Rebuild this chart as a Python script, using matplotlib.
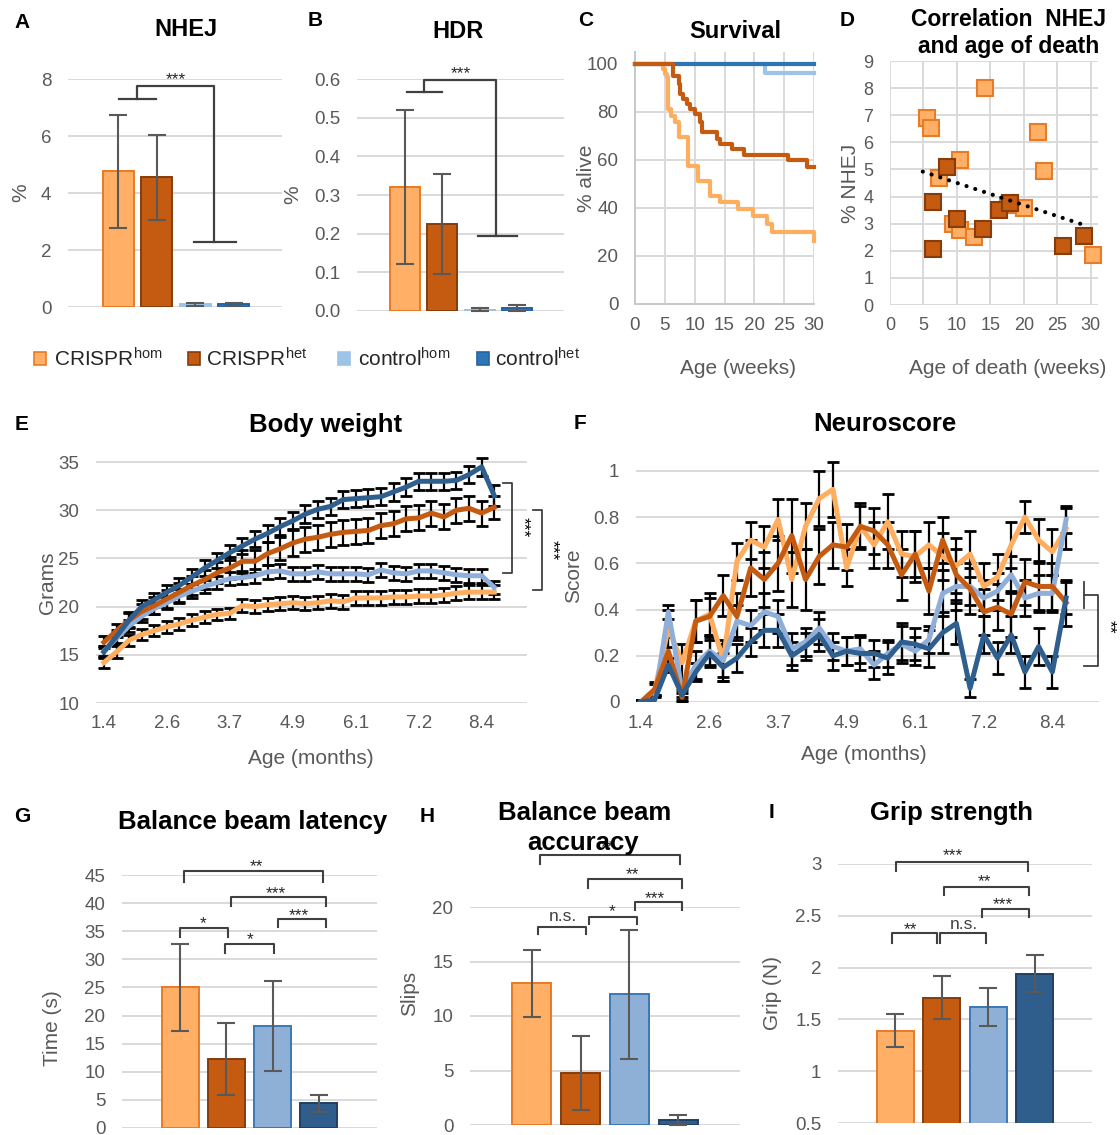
import matplotlib
matplotlib.use('Agg')
import matplotlib.pyplot as plt
import numpy as np
from matplotlib.patches import Rectangle

plt.rcParams['font.family'] = ['Liberation Sans', 'DejaVu Sans']
plt.rcParams['mathtext.fontset'] = 'custom'
plt.rcParams['mathtext.rm'] = 'Liberation Sans'
plt.rcParams['mathtext.it'] = 'Liberation Sans:italic'
plt.rcParams['mathtext.bf'] = 'Liberation Sans:bold'

# ---------------- data ----------------
legend_labels = ['CRISPR$^{\\mathregular{hom}}$', 'CRISPR$^{\\mathregular{het}}$',
                 'control$^{\\mathregular{hom}}$', 'control$^{\\mathregular{het}}$']

nhej_mean = [4.77, 4.56, 0.10, 0.10]
nhej_err = [1.97, 1.50, 0.05, 0.04]
hdr_mean = [0.32, 0.225, 0.003, 0.007]
hdr_err = [0.20, 0.13, 0.003, 0.007]

# survival (weeks, % alive), step curves
surv_crhom_w = [0, 4.7, 5.0, 5.3, 5.6, 6.1, 6.7, 7.3, 8.9, 10.6, 12.6, 14.2, 17.3, 19.8, 22.1, 22.9, 30]
surv_crhom_p = [100, 97.9, 96, 94.4, 81.2, 78.5, 75.7, 69.4, 57.6, 51.4, 45.1, 42.4, 39.6, 36.8, 33.3, 29.9, 26.4]
surv_crhet_w = [0, 6.4, 7.3, 7.5, 8.1, 8.7, 9.2, 10.1, 10.9, 11.2, 13.7, 14.2, 16.2, 18.2, 25.7, 28.8, 30]
surv_crhet_p = [100, 95.1, 91.7, 87.5, 85.4, 83.3, 81.3, 79.2, 75.7, 71.5, 68.8, 66.7, 64.6, 62.2, 60.0, 57.0, 57.0]
surv_cthom_w = [0, 21.8, 30]
surv_cthom_p = [100, 96.1, 96.1]
surv_cthet_w = [0, 30]
surv_cthet_p = [100, 100]

# correlation NHEJ vs age of death
corr_hom_age = [5.6, 6.14, 14.25, 7.31, 10.4, 22.15, 22.95, 9.34, 10.4, 12.5, 17.6, 20.0, 30.3]
corr_hom_nhej = [6.89, 6.52, 7.99, 4.67, 5.35, 6.37, 4.96, 2.99, 2.77, 2.50, 3.69, 3.57, 1.84]
corr_het_age = [8.54, 6.4, 6.4, 10.04, 13.9, 16.3, 18.0, 25.8, 29.0]
corr_het_nhej = [5.10, 3.81, 2.05, 3.17, 2.80, 3.50, 3.75, 2.19, 2.55]
trend_age = [4.9, 29.0]
trend_nhej = [4.92, 2.95]

# body weight (weekly, 32 points)
month_ticks = ['1.4', '2.6', '3.7', '4.9', '6.1', '7.2', '8.4']
bw_crhom = [14.2, 15.3, 16.5, 17.1, 17.5, 17.9, 18.2, 18.6, 18.9, 19.2, 19.3, 20.1, 20.0, 20.2, 20.3, 20.4,
            20.3, 20.4, 20.6, 20.5, 20.9, 20.9, 20.9, 21.0, 21.0, 21.1, 21.1, 21.2, 21.4, 21.5, 21.5, 21.5]
bw_crhet = [16.3, 17.5, 18.6, 19.5, 20.1, 20.8, 21.5, 22.2, 22.8, 23.5, 24.0, 24.7, 24.7, 25.5, 26.0, 26.6,
            27.0, 27.2, 27.5, 27.7, 27.8, 27.9, 28.4, 28.6, 29.1, 29.2, 29.7, 29.3, 30.0, 30.2, 29.7, 30.3]
bw_cthom = [15.4, 16.7, 18.0, 19.0, 19.8, 20.4, 21.1, 21.6, 22.1, 22.5, 22.9, 23.0, 23.2, 23.6, 23.7, 23.4,
            23.4, 23.6, 23.4, 23.4, 23.4, 23.3, 23.8, 23.5, 23.4, 23.7, 23.7, 23.5, 23.3, 23.2, 23.2, 22.0]
bw_cthet = [15.3, 16.9, 18.6, 20.0, 20.7, 21.5, 22.2, 23.1, 24.0, 24.8, 25.6, 26.3, 27.0, 27.6, 28.3, 28.9,
            29.6, 30.1, 30.4, 31.1, 31.2, 31.3, 31.4, 31.9, 32.4, 33.0, 33.0, 33.0, 33.1, 33.7, 34.5, 31.5]
bw_err_crhom = [0.6, 0.6, 0.6, 0.6, 0.6, 0.6, 0.6, 0.6, 0.6, 0.6, 0.6, 0.7, 0.7, 0.7, 0.7, 0.7,
                0.7, 0.7, 0.7, 0.7, 0.7, 0.7, 0.7, 0.7, 0.7, 0.7, 0.7, 0.7, 0.7, 0.7, 0.7, 0.7]
bw_err_crhet = [0.6, 0.7, 0.8, 0.8, 0.9, 0.9, 1.0, 1.0, 1.0, 1.1, 1.1, 1.2, 1.2, 1.2, 1.2, 1.3,
                1.3, 1.3, 1.3, 1.3, 1.3, 1.3, 1.3, 1.3, 1.3, 1.3, 1.3, 1.3, 1.3, 1.3, 1.3, 1.2]
bw_err_cthom = [0.5, 0.6, 0.6, 0.6, 0.6, 0.6, 0.7, 0.7, 0.7, 0.7, 0.7, 0.7, 0.7, 0.7, 0.7, 0.7,
                0.7, 0.7, 0.7, 0.7, 0.7, 0.7, 0.7, 0.7, 0.7, 0.7, 0.7, 0.7, 0.7, 0.7, 0.7, 0.7]
bw_err_cthet = [0.6, 0.7, 0.7, 0.7, 0.7, 0.7, 0.8, 0.8, 0.8, 0.8, 0.8, 0.8, 0.8, 0.9, 0.9, 0.9,
                0.9, 0.9, 0.9, 0.9, 0.9, 0.9, 0.9, 0.9, 0.9, 0.9, 0.9, 0.9, 0.9, 0.9, 0.9, 1.1]

# neuroscore (weekly, 32 points)
ns_crhom = [0.00, 0.05, 0.32, 0.17, 0.35, 0.38, 0.18, 0.61, 0.70, 0.67, 0.79, 0.53, 0.76, 0.88, 0.92, 0.58,
            0.76, 0.68, 0.78, 0.64, 0.63, 0.68, 0.63, 0.59, 0.64, 0.50, 0.54, 0.68, 0.80, 0.70, 0.65, 0.75]
ns_crhet = [0.00, 0.055, 0.22, 0.02, 0.35, 0.37, 0.46, 0.37, 0.58, 0.53, 0.60, 0.72, 0.53, 0.63, 0.68, 0.67,
            0.76, 0.74, 0.68, 0.55, 0.64, 0.48, 0.70, 0.55, 0.49, 0.39, 0.41, 0.38, 0.52, 0.50, 0.50, 0.43]
ns_cthom = [0.00, 0.01, 0.39, 0.05, 0.16, 0.22, 0.18, 0.35, 0.33, 0.39, 0.37, 0.23, 0.26, 0.32, 0.24, 0.22,
            0.23, 0.16, 0.21, 0.25, 0.22, 0.27, 0.47, 0.50, 0.50, 0.45, 0.48, 0.55, 0.45, 0.47, 0.47, 0.79]
ns_cthet = [0.00, 0.01, 0.16, 0.03, 0.13, 0.21, 0.15, 0.19, 0.26, 0.31, 0.31, 0.20, 0.24, 0.29, 0.20, 0.22,
            0.21, 0.21, 0.19, 0.26, 0.25, 0.23, 0.30, 0.34, 0.06, 0.29, 0.19, 0.29, 0.13, 0.24, 0.13, 0.45]
ns_err_crhom = [0.01, 0.03, 0.08, 0.08, 0.09, 0.09, 0.09, 0.08, 0.08, 0.09, 0.09, 0.12, 0.10, 0.12, 0.12, 0.08,
                0.09, 0.10, 0.12, 0.10, 0.11, 0.10, 0.10, 0.12, 0.10, 0.10, 0.10, 0.10, 0.07, 0.09, 0.10, 0.09]
ns_err_crhet = [0.01, 0.03, 0.06, 0.02, 0.09, 0.08, 0.09, 0.10, 0.12, 0.12, 0.12, 0.16, 0.13, 0.12, 0.10, 0.10,
                0.10, 0.10, 0.10, 0.11, 0.10, 0.10, 0.10, 0.11, 0.11, 0.10, 0.10, 0.10, 0.10, 0.10, 0.10, 0.10]
ns_err_cthom = [0.01, 0.02, 0.03, 0.03, 0.06, 0.06, 0.07, 0.07, 0.07, 0.08, 0.07, 0.07, 0.06, 0.07, 0.06, 0.06,
                0.06, 0.06, 0.06, 0.08, 0.06, 0.06, 0.10, 0.10, 0.08, 0.08, 0.08, 0.08, 0.08, 0.08, 0.08, 0.06]
ns_err_cthet = [0.01, 0.02, 0.03, 0.02, 0.04, 0.06, 0.06, 0.06, 0.06, 0.07, 0.07, 0.06, 0.06, 0.07, 0.06, 0.06,
                0.07, 0.06, 0.07, 0.08, 0.07, 0.08, 0.09, 0.09, 0.04, 0.08, 0.07, 0.08, 0.07, 0.08, 0.07, 0.07]

latency_mean = [25.0, 12.3, 18.2, 4.4]
latency_err = [7.8, 6.4, 8.0, 1.5]
slips_mean = [13.0, 4.8, 12.0, 0.46]
slips_err = [3.1, 3.4, 5.9, 0.46]
grip_mean = [1.39, 1.71, 1.62, 1.94]
grip_err = [0.16, 0.21, 0.18, 0.18]

# significance brackets: (x1, x2, y_top, y_end, label, label_x, label_y)
G_brackets = [(0.08, 3.10, 45.7, 43.8, '**', 1.66, 47.4),
              (1.10, 3.15, 41.1, 39.5, '***', 2.06, 42.7),
              (2.12, 3.15, 37.1, 35.7, '***', 2.56, 38.8),
              (0.00, 1.04, 35.6, 34.0, '*', 0.50, 37.3),
              (0.98, 2.03, 32.7, 31.2, '*', 1.52, 34.5)]
H_brackets = [(0.17, 3.03, 24.8, 23.9, '**', 1.55, 26.0),
              (1.15, 3.08, 22.6, 21.7, '**', 2.07, 23.5),
              (2.11, 3.08, 20.5, 19.7, '***', 2.52, 21.3),
              (1.17, 2.15, 19.1, 18.4, '*', 1.64, 20.1),
              (0.13, 1.11, 18.2, 17.5, 'n.s.', 0.64, 19.1)]
I_brackets = [(0.01, 2.86, 3.02, 2.93, '***', 1.24, 3.13),
              (1.05, 2.88, 2.78, 2.70, '**', 1.93, 2.88),
              (1.86, 2.88, 2.57, 2.49, '***', 2.32, 2.66),
              (-0.08, 0.90, 2.33, 2.24, '**', 0.33, 2.42),
              (0.96, 1.95, 2.33, 2.24, 'n.s.', 1.48, 2.42)]

# ---------------- style ----------------
W, H = 1120, 1135
fig = plt.figure(figsize=(W / 100, H / 100), dpi=100)

C_HOM = '#FFB066'; C_HOM_E = '#E97A26'
C_HET = '#C55A11'; C_HET_E = '#853D0C'
C_CH = '#9DC3E6'; C_CT = '#2E75B6'
C_CH2 = '#8FB0D6'; C_CH2_E = '#3A78B5'
C_CT2 = '#2F5D8C'; C_CT2_E = '#1F3F63'
L_HOM = '#FFAD5E'; L_HET = '#C55A11'; L_CH = '#8FAEDA'; L_CT = '#2F5F8F'
GRID = '#D9D9D9'; TICK = '#595959'; BR = '#404040'

TICKFS = 13.5
LABFS = 15
TITFS1 = 17
TITFS2 = 18.5
LETFS = 15


def add_ax(x0, x1, ytop, ybot):
    return fig.add_axes([x0 / W, 1 - ybot / H, (x1 - x0) / W, (ybot - ytop) / H])


def ftext(x, y, s, **kw):
    kw.setdefault('ha', 'center')
    kw.setdefault('va', 'center')
    fig.text(x / W, 1 - y / H, s, **kw)


def style(ax, grid_axis='y', fs=TICKFS):
    for s in ax.spines.values():
        s.set_visible(False)
    ax.tick_params(length=0, labelsize=fs, labelcolor=TICK)
    ax.tick_params(axis='y', pad=12)
    ax.tick_params(axis='x', pad=9)
    ax.grid(axis=grid_axis, color=GRID, lw=1.4)
    ax.set_axisbelow(True)
    ax.set_facecolor('none')


def bars(ax, means, errs, fills, edges):
    x = np.arange(len(means))
    ax.bar(x, means, width=0.8, color=fills, edgecolor=edges, linewidth=1.4, zorder=2)
    ax.errorbar(x, means, yerr=errs, fmt='none', ecolor='#595959', elinewidth=1.5,
                capsize=6.5, capthick=1.5, zorder=3, clip_on=False)
    ax.set_xticks([])


def sig(ax, x, y, s, fs=12.5, color='#262626', rotation=0):
    if rotation:
        ax.text(x, y, s, fontsize=fs, color=color, rotation=rotation, ha='center', va='center', clip_on=False)
        return
    off = -0.58 * fs if s.startswith('*') else -0.26 * fs
    ax.annotate(s, (x, y), xytext=(0, off), textcoords='offset points', ha='center', va='baseline',
                fontsize=fs, color=color, annotation_clip=False)


def brackets(ax, blist, fs=12.5):
    for x1, x2, yt, ye, lab, lx, ly in blist:
        ax.plot([x1, x1, x2, x2], [ye, yt, yt, ye], color=BR, lw=1.5, clip_on=False, zorder=4)
        sig(ax, lx, ly, lab, fs=fs, color='#262626' if lab.startswith('*') else '#404040')


# ---------------- A: NHEJ ----------------
axA = add_ax(68, 282, 79.3, 307.3)
style(axA)
bars(axA, nhej_mean, nhej_err, [C_HOM, C_HET, C_CH, C_CT], [C_HOM_E, C_HET_E, C_CH, '#2563A0'])
axA.set_xlim(-1.3, 4.25)
axA.set_ylim(0, 8)
axA.set_yticks([0, 2, 4, 6, 8])
A_br_x = [[0.01, 0.99], [0.49, 0.49, 2.49, 2.49], [1.97, 3.06]]
A_br_y = [[7.32, 7.32], [7.32, 7.77, 7.77, 2.28], [2.28, 2.28]]
for bx, by in zip(A_br_x, A_br_y):
    axA.plot(bx, by, color=BR, lw=1.6, clip_on=False, zorder=4)
sig(axA, 1.5, 8.2, '***')

# ---------------- B: HDR ----------------
axB = add_ax(357, 564, 79.3, 310.7)
style(axB)
bars(axB, hdr_mean, hdr_err, [C_HOM, C_HET, C_CH, C_CT], [C_HOM_E, C_HET_E, C_CH, '#2563A0'])
axB.set_xlim(-1.29, 4.26)
axB.set_ylim(0, 0.6)
axB.set_yticks([0, 0.1, 0.2, 0.3, 0.4, 0.5, 0.6])
axB.set_yticklabels(['0.0', '0.1', '0.2', '0.3', '0.4', '0.5', '0.6'])
B_br_x = [[0.06, 0.99], [0.51, 0.51, 2.45, 2.45], [1.95, 3.0]]
B_br_y = [[0.567, 0.567], [0.567, 0.598, 0.598, 0.194], [0.194, 0.194]]
for bx, by in zip(B_br_x, B_br_y):
    axB.plot(bx, by, color=BR, lw=1.6, clip_on=False, zorder=4)
sig(axB, 1.49, 0.629, '***')

# ---------------- C: Survival ----------------
axC = add_ax(635, 814, 52, 304)
style(axC, grid_axis='both')
axC.spines['left'].set_visible(True)
axC.spines['bottom'].set_visible(True)
axC.spines['left'].set_color('#C8C8C8')
axC.spines['bottom'].set_color('#C8C8C8')
axC.spines['left'].set_linewidth(1.4)
axC.spines['bottom'].set_linewidth(1.4)
axC.step(surv_cthom_w, surv_cthom_p, where='post', color=C_CH, lw=3, zorder=3, clip_on=False)
axC.step(surv_cthet_w, surv_cthet_p, where='post', color=C_CT, lw=3, zorder=3, clip_on=False)
axC.step(surv_crhom_w, surv_crhom_p, where='post', color=L_HOM, lw=3, zorder=3, clip_on=False)
axC.step(surv_crhet_w, surv_crhet_p, where='post', color=L_HET, lw=3, zorder=3, clip_on=False)
axC.set_xlim(0, 30)
axC.set_ylim(0, 105)
axC.set_xticks([0, 5, 10, 15, 20, 25, 30])
axC.set_yticks([0, 20, 40, 60, 80, 100])

# ---------------- D: correlation ----------------
axD = add_ax(890, 1097.5, 61, 305)
style(axD, grid_axis='both', fs=13)
axD.plot(corr_hom_age, corr_hom_nhej, 's', ms=11, mfc=C_HOM, mec=C_HOM_E, mew=1.5, zorder=3, clip_on=False)
axD.plot(corr_het_age, corr_het_nhej, 's', ms=11, mfc=C_HET, mec=C_HET_E, mew=1.5, zorder=4, clip_on=False)
axD.plot(trend_age, trend_nhej, color='black', lw=3, dashes=(0.01, 2.2), dash_capstyle='round', zorder=5)
axD.set_xlim(0, 31)
axD.set_ylim(0, 9)
axD.set_xticks([0, 5, 10, 15, 20, 25, 30])
axD.set_yticks(range(0, 10))

# ---------------- E: body weight ----------------
axE = add_ax(96, 527, 454.3, 703)
style(axE)
xw = np.arange(len(bw_crhom))
for yv, ev in [(bw_crhom, bw_err_crhom), (bw_cthom, bw_err_cthom), (bw_crhet, bw_err_crhet), (bw_cthet, bw_err_cthet)]:
    axE.errorbar(xw, yv, yerr=ev, fmt='none', ecolor='black', elinewidth=1.6, capsize=4.5, capthick=2, zorder=2)
axE.plot(xw, bw_crhom, color=L_HOM, lw=3.6, zorder=3)
axE.plot(xw, bw_cthom, color=L_CH, lw=3.6, zorder=3)
axE.plot(xw, bw_crhet, color=L_HET, lw=3.6, zorder=3)
axE.plot(xw, bw_cthet, color=L_CT, lw=3.6, zorder=3)
axE.set_xlim(-0.63, 33.6)
axE.set_ylim(10, 35.8)
axE.set_yticks([10, 15, 20, 25, 30, 35])
axE.set_xticks(np.arange(0, 31, 5))
axE.set_xticklabels(month_ticks)
E_br_x = [[31.7, 32.4, 32.4, 31.7], [34.1, 34.8, 34.8, 34.1]]
E_br_y = [[32.8, 32.8, 23.5, 23.5], [30.0, 30.0, 21.7, 21.7]]
for bx, by in zip(E_br_x, E_br_y):
    axE.plot(bx, by, color=BR, lw=1.3, clip_on=False, zorder=4)
sig(axE, 33.3, 28.2, '***', fs=12.5, color='black', rotation=270)
sig(axE, 35.6, 25.9, '***', fs=12.5, color='black', rotation=270)

# ---------------- F: neuroscore ----------------
axF = add_ax(636, 1099, 457, 702)
style(axF)
xn = np.arange(len(ns_crhom))
for yv, ev in [(ns_crhom, ns_err_crhom), (ns_cthom, ns_err_cthom), (ns_crhet, ns_err_crhet), (ns_cthet, ns_err_cthet)]:
    axF.errorbar(xn, yv, yerr=ev, fmt='none', ecolor='black', elinewidth=1.6, capsize=4.5, capthick=2, zorder=2)
axF.plot(xn, ns_crhom, color=L_HOM, lw=3.6, zorder=3)
axF.plot(xn, ns_cthom, color=L_CH, lw=3.6, zorder=3)
axF.plot(xn, ns_crhet, color=L_HET, lw=3.6, zorder=3)
axF.plot(xn, ns_cthet, color=L_CT, lw=3.6, zorder=3)
axF.set_xlim(-0.36, 33.4)
axF.set_ylim(0, 1.06)
axF.set_yticks([0, 0.2, 0.4, 0.6, 0.8, 1.0])
axF.set_yticklabels(['0', '0.2', '0.4', '0.6', '0.8', '1'])
axF.set_xticks(np.arange(0, 31, 5))
axF.set_xticklabels(month_ticks)
F_br_x = [[32.3, 32.3], [32.3, 33.3, 33.3, 32.3]]
F_br_y = [[0.52, 0.405], [0.465, 0.465, 0.155, 0.155]]
for bx, by in zip(F_br_x, F_br_y):
    axF.plot(bx, by, color=BR, lw=1.3, clip_on=False, zorder=4)
sig(axF, 34.1, 0.325, '**', fs=12.5, color='black', rotation=270)

# ---------------- G, H, I ----------------
fills2 = [C_HOM, C_HET, C_CH2, C_CT2]
edges2 = [C_HOM_E, C_HET_E, C_CH2_E, C_CT2_E]

axG = add_ax(122, 377, 875, 1128)
style(axG)
bars(axG, latency_mean, latency_err, fills2, edges2)
axG.set_xlim(-1.26, 4.26)
axG.set_ylim(0, 45)
axG.set_yticks(range(0, 46, 5))
brackets(axG, G_brackets)

axH = add_ax(470, 740, 907, 1125)
style(axH)
bars(axH, slips_mean, slips_err, fills2, edges2)
axH.set_xlim(-1.26, 4.26)
axH.set_ylim(0, 20)
axH.set_yticks([0, 5, 10, 15, 20])
brackets(axH, H_brackets)

axI = add_ax(838, 1092, 864, 1123)
style(axI)
bars(axI, grip_mean, grip_err, fills2, edges2)
axI.set_xlim(-1.24, 4.24)
axI.set_ylim(0.5, 3)
axI.set_yticks([0.5, 1, 1.5, 2, 2.5, 3])
axI.set_yticklabels(['0.5', '1', '1.5', '2', '2.5', '3'])
brackets(axI, I_brackets)

# ---------------- text: letters, titles, axis labels ----------------
for (lx, ly, L) in [(22, 22, 'A'), (315, 21, 'B'), (586, 20, 'C'), (847, 20, 'D'),
                    (22, 425, 'E'), (580, 424, 'F'), (22, 817, 'G'), (427, 816, 'H'), (771, 813, 'I')]:
    ftext(lx, ly, L, fontsize=LETFS, fontweight='bold', color='black')

ftext(186, 30, 'NHEJ', fontsize=TITFS1, fontweight='bold')
ftext(458, 32, 'HDR', fontsize=TITFS1, fontweight='bold')
ftext(735, 31, 'Survival', fontsize=TITFS1, fontweight='bold')
ftext(1009, 19, 'Correlation  NHEJ', fontsize=16.5, fontweight='bold')
ftext(1009, 47, 'and age of death', fontsize=16.5, fontweight='bold')
ftext(326, 425, 'Body weight', fontsize=TITFS2, fontweight='bold')
ftext(885, 424, 'Neuroscore', fontsize=TITFS2, fontweight='bold')
ftext(253, 822, 'Balance beam latency', fontsize=TITFS2, fontweight='bold')
ftext(585, 813, 'Balance beam', fontsize=TITFS2, fontweight='bold')
ftext(583, 843, 'accuracy', fontsize=TITFS2, fontweight='bold')
ftext(952, 813, 'Grip strength', fontsize=TITFS2, fontweight='bold')

ftext(21, 193, '%', fontsize=LABFS, color=TICK, rotation=90)
ftext(293, 195, '%', fontsize=LABFS, color=TICK, rotation=90)
ftext(587, 178, '% alive', fontsize=LABFS, color=TICK, rotation=90)
ftext(851, 183, '% NHEJ', fontsize=LABFS, color=TICK, rotation=90)
ftext(738, 368, 'Age (weeks)', fontsize=LABFS, color=TICK)
ftext(1008, 368, 'Age of death (weeks)', fontsize=LABFS, color=TICK)
ftext(48, 583, 'Grams', fontsize=LABFS, color=TICK, rotation=90)
ftext(311, 758, 'Age (months)', fontsize=LABFS, color=TICK)
ftext(574, 576, 'Score', fontsize=LABFS, color=TICK, rotation=90)
ftext(864, 755, 'Age (months)', fontsize=LABFS, color=TICK)
ftext(53, 1028, 'Time (s)', fontsize=LABFS, color=TICK, rotation=90)
ftext(410, 993, 'Slips', fontsize=LABFS, color=TICK, rotation=90)
ftext(773, 993, 'Grip (N)', fontsize=LABFS, color=TICK, rotation=90)

# ---------------- legend ----------------
leg_sq_x = [40, 194, 344, 483]
leg_tx_x = [54, 206, 358, 495]
leg_fill = [C_HOM, C_HET, C_CH, C_CT]
leg_edge = [C_HOM_E, C_HET_E, C_CH, '#2563A0']
for sx, tx, fc, ec, lab in zip(leg_sq_x, leg_tx_x, leg_fill, leg_edge, legend_labels):
    fig.add_artist(Rectangle(((sx - 6) / W, 1 - 364.5 / H), 12 / W, 13 / H, transform=fig.transFigure,
                             facecolor=fc, edgecolor=ec, lw=1.2))
    ftext(tx, 359, lab, fontsize=15, color='#262626', ha='left')

fig.savefig('out.png', dpi=100)
